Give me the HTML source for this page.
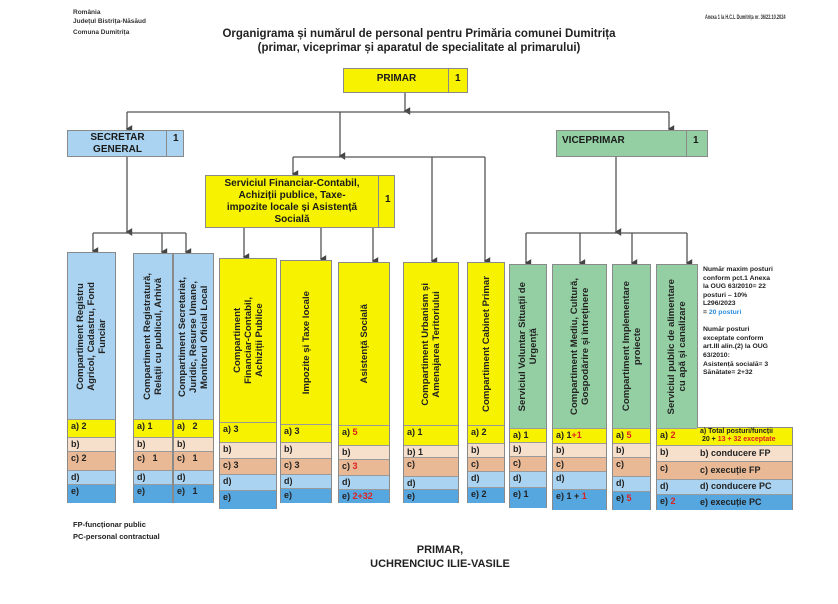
<!DOCTYPE html>
<html><head><meta charset="utf-8">
<style>
*{margin:0;padding:0;box-sizing:border-box}
body{width:838px;height:604px;background:#fff;position:relative;overflow:hidden;font-family:"Liberation Sans",Arial,sans-serif;color:#1a1a1a}
.a{position:absolute}
.sm{font-size:6.5px;font-weight:bold;color:#333;white-space:nowrap}
.t{font-size:11.5px;font-weight:bold;text-align:center;left:0;width:838px;color:#222}
.box{position:absolute;border:1px solid #8a8a8a;font-weight:bold;font-size:10px}
.y{background:#f6f200}.b{background:#a9d3f0}.g{background:#93cfa3}
.col{position:absolute;border:1px solid #8a8a8a}
.vt{position:absolute;left:0;right:0;top:0;display:flex;align-items:center;justify-content:center}
.vt span{writing-mode:vertical-rl;transform:rotate(180deg);font-size:9.6px;font-weight:bold;text-align:center;line-height:11px;color:#222}
.r{position:absolute;left:0;right:0;font-size:9px;font-weight:bold;padding-left:3px;border-top:1px solid #9a9a9a;color:#222;line-height:12px}
.ra{background:#f6f200}.rb{background:#f6e0cc}.rc{background:#e9b995}.rd{background:#a9d3f0}.re{background:#56a6df}
.red{color:#d22}
svg{position:absolute;left:0;top:0}
</style></head><body>
<div class="a sm" style="left:73px;top:9px">România</div>
<div class="a sm" style="left:73px;top:18px">Județul Bistrița-Năsăud</div>
<div class="a sm" style="left:73px;top:29px">Comuna Dumitrița</div>
<div class="a sm" style="left:705px;top:14px;transform:scaleX(0.6);transform-origin:0 0">Anexa 1 la H.C.L Dumitrița nr. 36/22.10.2024</div>
<div class="a t" style="top:28px">Organigrama și numărul de personal pentru Primăria comunei Dumitrița</div>
<div class="a t" style="top:42px">(primar, viceprimar și aparatul de specialitate al primarului)</div>

<svg width="838" height="604">
<defs><marker id="m" markerWidth="6" markerHeight="6" refX="3" refY="5" orient="auto"><path d="M0,1 L6,1 L3,6z" fill="#444"/></marker></defs>
<g stroke="#555" stroke-width="1.3" fill="none">
<line x1="405" y1="93" x2="405" y2="111" marker-end="url(#m)"/>
<line x1="127" y1="112" x2="669" y2="112"/>
<line x1="127" y1="112" x2="127" y2="129" marker-end="url(#m)"/>
<line x1="669" y1="112" x2="669" y2="129" marker-end="url(#m)"/>
<line x1="340" y1="112" x2="340" y2="156" marker-end="url(#m)"/>
<line x1="293" y1="157" x2="485" y2="157"/>
<line x1="293" y1="157" x2="293" y2="174" marker-end="url(#m)"/>
<line x1="432" y1="157" x2="432" y2="261" marker-end="url(#m)"/>
<line x1="485" y1="157" x2="485" y2="261" marker-end="url(#m)"/>
<line x1="127" y1="157" x2="127" y2="232" marker-end="url(#m)"/>
<line x1="93" y1="233" x2="186" y2="233"/>
<line x1="93" y1="233" x2="93" y2="251" marker-end="url(#m)"/>
<line x1="162" y1="233" x2="162" y2="252" marker-end="url(#m)"/>
<line x1="186" y1="233" x2="186" y2="252" marker-end="url(#m)"/>
<line x1="244" y1="228" x2="244" y2="257" marker-end="url(#m)"/>
<line x1="321" y1="228" x2="321" y2="259" marker-end="url(#m)"/>
<line x1="373" y1="228" x2="373" y2="261" marker-end="url(#m)"/>
<line x1="616" y1="157" x2="616" y2="232" marker-end="url(#m)"/>
<line x1="526" y1="233" x2="687" y2="233"/>
<line x1="526" y1="233" x2="526" y2="263" marker-end="url(#m)"/>
<line x1="580" y1="233" x2="580" y2="263" marker-end="url(#m)"/>
<line x1="632" y1="233" x2="632" y2="263" marker-end="url(#m)"/>
<line x1="687" y1="233" x2="687" y2="263" marker-end="url(#m)"/>
</g></svg>

<div class="box y" style="left:343px;top:68px;width:125px;height:25px"><div class="a" style="left:0;width:105px;top:4px;text-align:center">PRIMAR</div><div class="a" style="left:104px;top:0;bottom:0;border-left:1px solid #8a8a8a;padding:4px 0 0 6px">1</div></div>
<div class="box b" style="left:67px;top:130px;width:117px;height:27px"><div class="a" style="left:0;width:99px;top:1px;text-align:center;line-height:12px">SECRETAR<br>GENERAL</div><div class="a" style="left:98px;top:0;bottom:0;border-left:1px solid #8a8a8a;padding:2px 0 0 6px">1</div></div>
<div class="box g" style="left:556px;top:130px;width:152px;height:27px"><div class="a" style="left:5px;top:4px">VICEPRIMAR</div><div class="a" style="left:129px;top:0;bottom:0;border-left:1px solid #8a8a8a;padding:4px 0 0 6px">1</div></div>
<div class="box y" style="left:205px;top:175px;width:190px;height:53px"><div class="a" style="left:0;width:172px;top:2px;text-align:center;line-height:12px">Serviciul Financiar-Contabil,<br>Achiziții publice, Taxe-<br>impozite locale și Asistență<br>Socială</div><div class="a" style="left:172px;top:0;bottom:0;border-left:1px solid #8a8a8a;padding:18px 0 0 6px">1</div></div>

<div class="col b" style="left:67px;top:252px;width:49px;height:251px"><div class="vt" style="height:166px"><span>Compartiment Registru<br>Agricol, Cadastru, Fond<br>Funciar</span></div>
<div class="r ra" style="top:166px;height:18px">a) 2</div><div class="r rb" style="top:184px;height:14px">b)</div><div class="r rc" style="top:198px;height:19px">c) 2</div><div class="r rd" style="top:217px;height:14px">d)</div><div class="r re" style="top:231px;height:19px">e)</div></div>

<div class="col b" style="left:133px;top:253px;width:40px;height:250px"><div class="vt" style="height:165px"><span>Compartiment Registratură,<br>Relații cu publicul, Arhivă</span></div>
<div class="r ra" style="top:165px;height:18px">a) 1</div><div class="r rb" style="top:183px;height:14px">b)</div><div class="r rc" style="top:197px;height:19px">c)&nbsp;&nbsp; 1</div><div class="r rd" style="top:216px;height:14px">d)</div><div class="r re" style="top:230px;height:19px">e)</div></div>
<div class="col b" style="left:173px;top:253px;width:41px;height:250px"><div class="vt" style="height:165px"><span>Compartiment Secretariat,<br>Juridic, Resurse Umane,<br>Monitorul Oficial Local</span></div>
<div class="r ra" style="top:165px;height:18px">a)&nbsp;&nbsp; 2</div><div class="r rb" style="top:183px;height:14px">b)</div><div class="r rc" style="top:197px;height:19px">c)&nbsp;&nbsp; 1</div><div class="r rd" style="top:216px;height:14px">d)</div><div class="r re" style="top:230px;height:19px">e)&nbsp;&nbsp; 1</div></div>

<div class="col y" style="left:219px;top:258px;width:58px;height:251px"><div class="vt" style="height:163px"><span>Compartiment<br>Financiar-Contabil,<br>Achiziții Publice</span></div>
<div class="r ra" style="top:163px;height:20px">a) 3</div><div class="r rb" style="top:183px;height:16px">b)</div><div class="r rc" style="top:199px;height:16px">c) 3</div><div class="r rd" style="top:215px;height:16px">d)</div><div class="r re" style="top:231px;height:19px">e)</div></div>

<div class="col y" style="left:280px;top:260px;width:52px;height:243px"><div class="vt" style="height:163px"><span>Impozite și Taxe locale</span></div>
<div class="r ra" style="top:163px;height:18px">a) 3</div><div class="r rb" style="top:181px;height:16px">b)</div><div class="r rc" style="top:197px;height:16px">c) 3</div><div class="r rd" style="top:213px;height:14px">d)</div><div class="r re" style="top:227px;height:15px">e)</div></div>

<div class="col y" style="left:338px;top:262px;width:52px;height:241px"><div class="vt" style="height:162px"><span>Asistență Socială</span></div>
<div class="r ra" style="top:162px;height:20px">a) <span class="red">5</span></div><div class="r rb" style="top:182px;height:14px">b)</div><div class="r rc" style="top:196px;height:16px">c) <span class="red">3</span></div><div class="r rd" style="top:212px;height:14px">d)</div><div class="r re" style="top:226px;height:14px">e) <span class="red">2+32</span></div></div>

<div class="col y" style="left:403px;top:262px;width:56px;height:241px"><div class="vt" style="height:162px"><span>Compartiment Urbanism și<br>Amenajarea Teritoriului</span></div>
<div class="r ra" style="top:162px;height:20px">a) 1</div><div class="r rb" style="top:182px;height:12px">b) 1</div><div class="r rc" style="top:194px;height:19px">c)</div><div class="r rd" style="top:213px;height:13px">d)</div><div class="r re" style="top:226px;height:14px">e)</div></div>

<div class="col y" style="left:467px;top:262px;width:38px;height:241px"><div class="vt" style="height:162px"><span>Compartiment Cabinet Primar</span></div>
<div class="r ra" style="top:162px;height:18px">a) 2</div><div class="r rb" style="top:180px;height:14px">b)</div><div class="r rc" style="top:194px;height:14px">c)</div><div class="r rd" style="top:208px;height:16px">d)</div><div class="r re" style="top:224px;height:16px">e) 2</div></div>

<div class="col g" style="left:509px;top:264px;width:38px;height:244px"><div class="vt" style="height:163px"><span>Serviciul Voluntar Situații de<br>Urgență</span></div>
<div class="r ra" style="top:163px;height:14px">a) 1</div><div class="r rb" style="top:177px;height:14px">b)</div><div class="r rc" style="top:191px;height:15px">c)</div><div class="r rd" style="top:206px;height:16px">d)</div><div class="r re" style="top:222px;height:21px">e) 1</div></div>

<div class="col g" style="left:552px;top:264px;width:55px;height:246px"><div class="vt" style="height:163px"><span>Compartiment Mediu, Cultură,<br>Gospodărire și întreținere</span></div>
<div class="r ra" style="top:163px;height:15px">a) 1<span class="red">+1</span></div><div class="r rb" style="top:178px;height:14px">b)</div><div class="r rc" style="top:192px;height:14px">c)</div><div class="r rd" style="top:206px;height:18px">d)</div><div class="r re" style="top:224px;height:21px">e) 1 + <span class="red">1</span></div></div>

<div class="col g" style="left:612px;top:264px;width:39px;height:246px"><div class="vt" style="height:163px"><span>Compartiment Implementare<br>proiecte</span></div>
<div class="r ra" style="top:163px;height:15px">a) <span class="red">5</span></div><div class="r rb" style="top:178px;height:14px">b)</div><div class="r rc" style="top:192px;height:19px">c)</div><div class="r rd" style="top:211px;height:15px">d)</div><div class="r re" style="top:226px;height:19px">e) <span class="red">5</span></div></div>

<div class="col g" style="left:656px;top:264px;width:42px;height:246px"><div class="vt" style="height:163px"><span>Serviciul public de alimentare<br>cu apă și canalizare</span></div>
<div class="r ra" style="top:163px;height:17px">a) <span class="red">2</span></div><div class="r rb" style="top:180px;height:16px">b)</div><div class="r rc" style="top:196px;height:18px">c)</div><div class="r rd" style="top:214px;height:15px">d)</div><div class="r re" style="top:229px;height:16px">e) <span class="red">2</span></div></div>

<div class="col" style="left:697px;top:427px;width:96px;height:83px;border-left:none">
<div class="r ra" style="top:0;height:17px;font-size:7px;line-height:8px;border-top:none">a) Total posturi/funcții<br>&nbsp;20 + <span class="red">13 + 32 exceptate</span></div>
<div class="r rb" style="top:17px;height:16px;line-height:14px">b) conducere FP</div>
<div class="r rc" style="top:33px;height:18px;line-height:16px">c) execuție FP</div>
<div class="r rd" style="top:51px;height:15px;line-height:13px">d) conducere PC</div>
<div class="r re" style="top:66px;height:16px;line-height:14px">e) execuție PC</div></div>

<div class="a" style="left:703px;top:266px;font-size:6.8px;font-weight:bold;line-height:8.6px;color:#222">Număr maxim posturi<br>conform pct.1 Anexa<br>la OUG 63/2010= 22<br>posturi – 10%<br>L296/2023<br>= <span style="color:#2a8ee0">20 posturi</span><br><br>Număr posturi<br>exceptate conform<br>art.III alin.(2) la OUG<br>63/2010:<br>Asistență socială= 3<br>Sănătate= 2+32</div>

<div class="a" style="left:73px;top:519px;font-size:7.5px;font-weight:bold;line-height:12px;color:#222">FP-funcționar public<br>PC-personal contractual</div>
<div class="a" style="left:0;width:880px;top:543px;text-align:center;font-size:11px;font-weight:bold;line-height:14px;color:#222">PRIMAR,<br>UCHRENCIUC ILIE-VASILE</div>
</body></html>
